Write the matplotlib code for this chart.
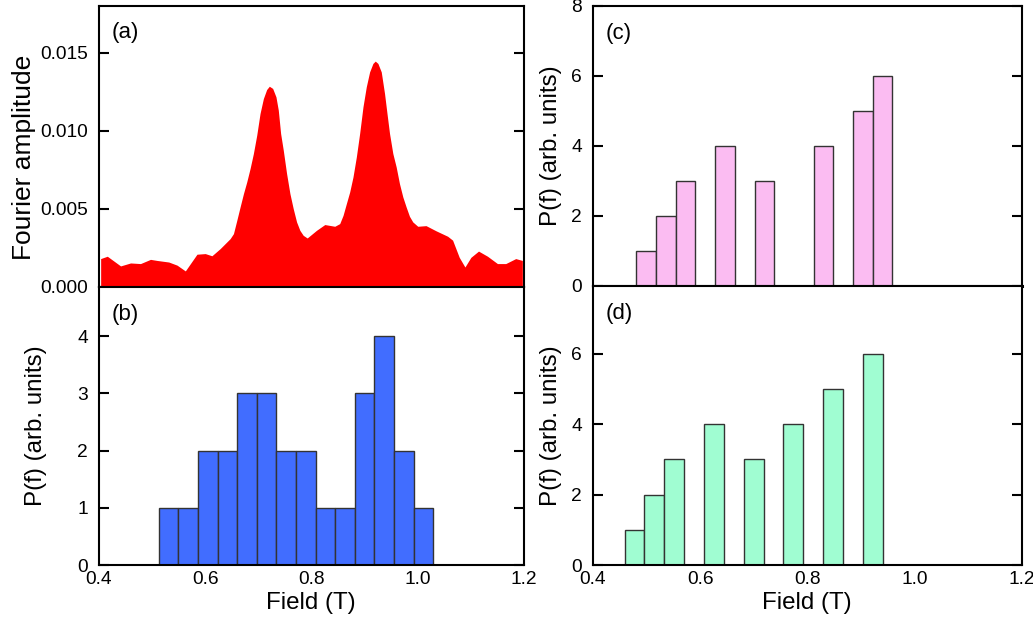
import numpy as np
import matplotlib
matplotlib.use("Agg")
import matplotlib.pyplot as plt

plt.rcParams['font.family'] = ['Liberation Sans', 'DejaVu Sans']

# (a) Fourier amplitude curve
field_a = [0.4031, 0.4156, 0.4406, 0.4594, 0.4781, 0.4969, 0.5094, 0.5313, 0.5469, 0.5625,
           0.5844, 0.6000, 0.6125, 0.6281,
           0.6469, 0.6531, 0.6594, 0.6656, 0.6719, 0.6781, 0.6844, 0.6906, 0.6969, 0.7031,
           0.7094, 0.7156, 0.7206, 0.7269, 0.7331, 0.7375, 0.7419, 0.7469, 0.7531, 0.7594,
           0.7656, 0.7719, 0.7781, 0.7844, 0.7919,
           0.8094, 0.8250, 0.8438, 0.8531, 0.8594, 0.8656, 0.8719, 0.8781, 0.8844, 0.8906,
           0.8969, 0.9031, 0.9094, 0.9156, 0.9200, 0.9250, 0.9313, 0.9375, 0.9425, 0.9469,
           0.9531, 0.9594, 0.9656, 0.9719, 0.9781, 0.9844, 0.9906, 1.0000,
           1.0156, 1.0344, 1.0563, 1.0656, 1.0781,
           1.0888, 1.1000, 1.1144, 1.1313, 1.1500, 1.1656, 1.1844, 1.1969]
amp_a = [0.00182, 0.00197, 0.00135, 0.00154, 0.00150, 0.00177, 0.00170, 0.00160, 0.00140, 0.00103,
         0.00210, 0.00214, 0.00200, 0.00246,
         0.00310, 0.00342, 0.00427, 0.00513, 0.00598, 0.00673, 0.00759, 0.00855, 0.00972, 0.01111,
         0.01207, 0.01265, 0.01286, 0.01272, 0.01218, 0.01133, 0.00983, 0.00876, 0.00727, 0.00598,
         0.00502, 0.00417, 0.00363, 0.00331, 0.00314,
         0.00363, 0.00400, 0.00389, 0.00406, 0.00459, 0.00534, 0.00609, 0.00705, 0.00833, 0.00983,
         0.01154, 0.01282, 0.01378, 0.01432, 0.01447, 0.01432, 0.01378, 0.01239, 0.01101, 0.00983,
         0.00855, 0.00769, 0.00662, 0.00577, 0.00513, 0.00453, 0.00417, 0.00389,
         0.00393, 0.00360, 0.00325, 0.00300, 0.00190,
         0.00128, 0.00190, 0.00230, 0.00197, 0.00150, 0.00150, 0.00182, 0.00170]

# (b) histogram
b_start, b_width = 0.5125, 0.0369
counts_b = [1, 1, 2, 2, 3, 3, 2, 2, 1, 1, 3, 4, 2, 1]

# (c) histogram
c_start, c_width = 0.481, 0.0367
counts_c = [1, 2, 3, 0, 4, 0, 3, 0, 0, 4, 0, 5, 6]

# (d) histogram
d_start, d_width = 0.459, 0.0370
counts_d = [1, 2, 3, 0, 4, 0, 3, 0, 4, 0, 5, 0, 6]

xticks = [0.4, 0.6, 0.8, 1.0, 1.2]
xticklabels = ['0.4', '0.6', '0.8', '1.0', '1.2']

W, H = 1033, 624
fig = plt.figure(figsize=(W / 100, H / 100), dpi=100)

def ax_at(x0, x1, y0, y1):
    return fig.add_axes([x0 / W, 1 - y1 / H, (x1 - x0) / W, (y1 - y0) / H])

def ftext(x, y, s, **kw):
    fig.text(x / W, 1 - y / H, s, **kw)

ax_a = ax_at(99, 524, 6, 287)
ax_b = ax_at(99, 524, 287, 565)
ax_c = ax_at(593, 1022, 6, 286)
ax_d = ax_at(593, 1022, 286, 565)

fs_tick = 13.8
fs_lab = 17.4
fs_panel = 16

for ax in (ax_a, ax_b, ax_c, ax_d):
    for s in ax.spines.values():
        s.set_linewidth(1.5)
    ax.tick_params(axis='y', direction='in', length=7, width=1.5, left=True, right=True,
                   labelsize=fs_tick, pad=8)
    ax.tick_params(axis='x', length=0, labelsize=fs_tick, pad=4)
    ax.set_xlim(0.4, 1.2)
    ax.set_xticks(xticks)

# (a)
ax_a.fill_between(field_a, amp_a, 0, color='#ff0000', linewidth=0, zorder=3)
ax_a.set_ylim(0, 0.018)
ax_a.set_yticks([0.0, 0.005, 0.010, 0.015])
ax_a.set_yticklabels(['0.000', '0.005', '0.010', '0.015'])
ax_a.set_xticklabels([])
ax_a.text(0.03, 0.907, '(a)', transform=ax_a.transAxes, fontsize=fs_panel, va='center')
ftext(24, 157, 'Fourier amplitude', fontsize=19, rotation=90, ha='center', va='center')

def hist(ax, start, width, counts, color):
    lefts = [start + i * width for i in range(len(counts))]
    ax.bar(lefts, counts, width=width, align='edge', color=color,
           edgecolor='#333333', linewidth=1.0, zorder=2)

# (b)
hist(ax_b, b_start, b_width, counts_b, '#416dff')
ax_b.set_ylim(0, 4.86)
ax_b.set_yticks([0, 1, 2, 3, 4])
ax_b.set_xticklabels(xticklabels)
ax_b.text(0.03, 0.9, '(b)', transform=ax_b.transAxes, fontsize=fs_panel, va='center')
ftext(36, 426, 'P(f) (arb. units)', fontsize=fs_lab, rotation=90, ha='center', va='center')
ftext(311, 603, 'Field (T)', fontsize=fs_lab, ha='center', va='center')

# (c)
hist(ax_c, c_start, c_width, counts_c, '#fbbcf2')
ax_c.set_ylim(0, 8)
ax_c.set_yticks([0, 2, 4, 6, 8])
ax_c.set_xticklabels([])
ax_c.spines['bottom'].set_linewidth(2.2)
ax_c.text(0.03, 0.9, '(c)', transform=ax_c.transAxes, fontsize=fs_panel, va='center')
ftext(551, 146, 'P(f) (arb. units)', fontsize=fs_lab, rotation=90, ha='center', va='center')

# (d)
hist(ax_d, d_start, d_width, counts_d, '#a0fdd2')
ax_d.set_ylim(0, 7.93)
ax_d.set_yticks([0, 2, 4, 6])
ax_d.set_xticklabels(xticklabels)
ax_d.text(0.03, 0.9, '(d)', transform=ax_d.transAxes, fontsize=fs_panel, va='center')
ftext(551, 426, 'P(f) (arb. units)', fontsize=fs_lab, rotation=90, ha='center', va='center')
ftext(807, 603, 'Field (T)', fontsize=fs_lab, ha='center', va='center')

fig.savefig('out.png', dpi=100)
